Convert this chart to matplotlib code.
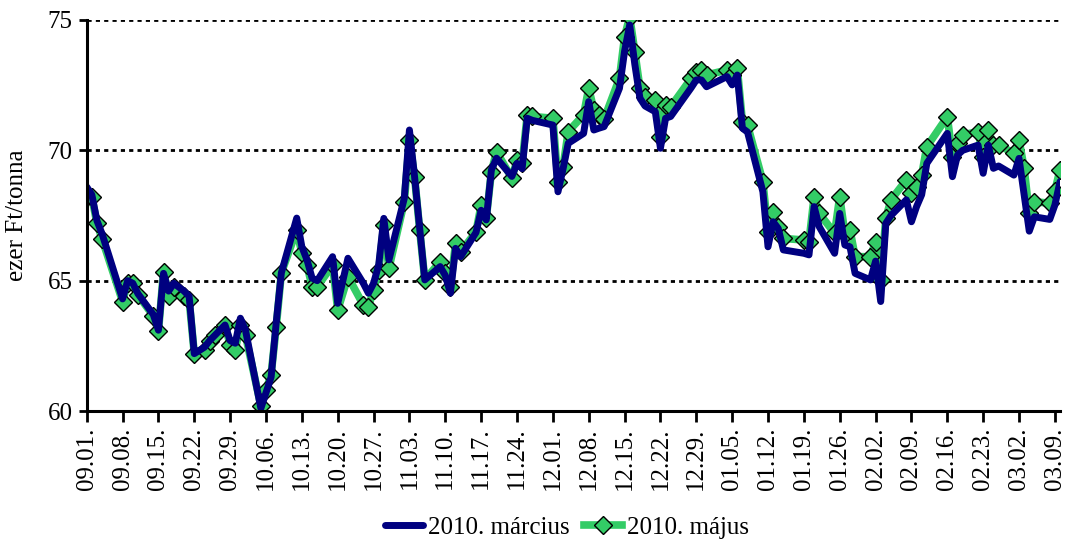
import matplotlib
matplotlib.use("Agg")
import matplotlib.pyplot as plt
import matplotlib.dates as mdates
import numpy as np
import pandas as pd

dates = ["2009-09-01","2009-09-02","2009-09-03","2009-09-04","2009-09-08","2009-09-09","2009-09-10","2009-09-11",
         "2009-09-14","2009-09-15","2009-09-16","2009-09-17","2009-09-18","2009-09-20","2009-09-21","2009-09-22",
         "2009-09-24","2009-09-25","2009-09-26","2009-09-28","2009-09-29","2009-09-30","2009-10-01","2009-10-02",
         "2009-10-05","2009-10-06","2009-10-07","2009-10-08","2009-10-09","2009-10-12","2009-10-13","2009-10-14",
         "2009-10-15","2009-10-16","2009-10-19","2009-10-20","2009-10-22","2009-10-25","2009-10-26","2009-10-27",
         "2009-10-28","2009-10-29","2009-10-30","2009-11-02","2009-11-03","2009-11-04","2009-11-05","2009-11-06",
         "2009-11-09","2009-11-10","2009-11-11","2009-11-12","2009-11-13","2009-11-16","2009-11-17","2009-11-18",
         "2009-11-19","2009-11-20","2009-11-23","2009-11-24","2009-11-25","2009-11-26","2009-11-27","2009-12-01",
         "2009-12-02","2009-12-03","2009-12-04","2009-12-07","2009-12-08","2009-12-09","2009-12-10","2009-12-11",
         "2009-12-14","2009-12-15","2009-12-16","2009-12-17","2009-12-18","2009-12-19","2009-12-21","2009-12-22",
         "2009-12-23","2009-12-24","2009-12-28","2009-12-29","2009-12-30","2009-12-31","2010-01-04","2010-01-05",
         "2010-01-06","2010-01-07","2010-01-08","2010-01-11","2010-01-12","2010-01-13","2010-01-14","2010-01-15",
         "2010-01-19","2010-01-20","2010-01-21","2010-01-22","2010-01-25","2010-01-26","2010-01-27","2010-01-28",
         "2010-01-29","2010-02-01","2010-02-02","2010-02-03","2010-02-04","2010-02-05","2010-02-08","2010-02-09",
         "2010-02-10","2010-02-11","2010-02-12","2010-02-16","2010-02-17","2010-02-18","2010-02-19","2010-02-22",
         "2010-02-23","2010-02-24","2010-02-25","2010-02-26","2010-03-01","2010-03-02","2010-03-03","2010-03-04",
         "2010-03-05","2010-03-08","2010-03-09","2010-03-10"]

marcius = [68.6,68.3,67.3,66.8,64.3,65.0,64.9,64.5,
           63.7,63.1,65.28,64.6,64.9,64.6,64.4,62.2,
           62.45,62.7,62.9,63.3,62.7,62.6,63.56,63.1,
           60.1,60.7,61.3,63.4,65.3,67.4,66.3,65.8,
           65.1,65.0,65.92,64.13,65.86,64.9,64.52,64.9,
           65.6,67.39,65.8,68.16,70.78,69.0,67.0,65.03,
           65.54,65.2,64.52,66.24,65.92,66.85,67.7,67.33,
           69.25,69.7,69.0,69.5,69.3,71.23,71.15,70.97,
           68.41,69.3,70.27,70.65,71.87,70.78,70.85,70.91,
           72.38,73.8,74.81,73.3,72.0,71.7,71.48,70.08,
           71.23,71.3,72.4,72.7,72.7,72.44,72.83,72.51,
           72.89,70.85,70.7,68.41,66.3,67.26,67.0,66.18,
           66.05,65.99,67.84,67.07,66.05,67.58,66.37,66.3,
           65.28,65.03,65.75,64.2,67.2,67.5,68.1,67.26,
           67.84,68.3,69.5,70.65,68.99,69.82,70.0,70.2,
           69.12,70.2,69.31,69.4,69.05,69.69,68.3,66.9,
           67.45,67.35,67.9,68.8]

majus = [68.2,68.2,67.2,66.6,64.2,64.9,64.9,64.45,
         63.65,63.05,65.35,64.4,64.77,64.4,64.26,62.2,
         62.34,62.7,62.9,63.3,62.53,62.34,63.3,62.9,
         60.2,60.8,61.4,63.24,65.3,66.95,66.05,65.6,
         64.77,64.77,65.6,63.87,65.15,64.07,64.0,64.64,
         65.4,67.14,65.48,68.03,70.4,68.99,66.95,65.03,
         65.73,65.3,64.77,66.43,66.1,66.88,67.9,67.39,
         69.18,69.95,68.93,69.63,69.5,71.36,71.3,71.23,
         68.8,69.37,70.72,71.36,72.38,71.55,71.36,71.2,
         72.76,74.36,75.13,73.78,72.38,72.06,71.93,70.52,
         71.74,71.67,72.76,73.0,73.08,72.89,73.08,72.9,
         73.15,71.1,70.97,68.8,66.88,67.65,67.07,66.62,
         66.56,66.5,68.22,67.58,66.82,68.22,66.8,66.95,
         65.92,65.92,66.5,65.03,67.4,68.1,68.86,68.35,
         68.6,69.05,70.14,71.29,69.76,70.27,70.59,70.72,
         69.76,70.78,70.2,70.2,69.89,70.4,69.31,67.58,
         68.03,67.97,68.45,69.25]

series_labels = ["2010. március", "2010. május"]
y_label = "ezer Ft/tonna"
y_ticks = [60, 65, 70, 75]

x = pd.to_datetime(dates)

plt.rcParams['font.family'] = ['Liberation Serif', 'DejaVu Serif']

fig = plt.figure(figsize=(10.7, 5.45), dpi=100)
ax = fig.add_axes([86.7/1070, 1-411/545, (1060-86.7)/1070, (411-20)/545])

navy = '#000080'
green = '#33CC66'

ax.plot(x, majus, color=green, lw=5.5, marker='D', markersize=9,
        markerfacecolor=green, markeredgecolor='black', markeredgewidth=1.0,
        label=series_labels[1], zorder=3, solid_joinstyle='round')
ax.plot(x, marcius, color=navy, lw=5, label=series_labels[0], zorder=4,
        solid_joinstyle='round', solid_capstyle='round')

ax.set_ylim(60, 75)
ax.set_yticks(y_ticks)
start = pd.Timestamp("2009-09-01")
ax.set_xlim(start, start + pd.Timedelta(days=190))
ticks = pd.date_range("2009-09-01", "2010-03-09", freq="7D")
ax.set_xticks(ticks)
ax.set_xticklabels([t.strftime("%m.%d.") for t in ticks], rotation=90)

for v in y_ticks[1:]:
    ax.axhline(v, color='black', lw=2, ls=(0, (1.5, 1.5)), zorder=1)

for s in ['top', 'right']:
    ax.spines[s].set_visible(False)
for s in ['left', 'bottom']:
    ax.spines[s].set_linewidth(2.2)
    ax.spines[s].set_color('black')
    ax.spines[s].set_zorder(5)

ax.tick_params(axis='x', direction='out', length=8, width=2, labelsize=18, pad=4)
ax.tick_params(axis='y', direction='out', length=6, width=2, labelsize=18, pad=4)
ax.set_ylabel(y_label, fontsize=18, labelpad=14)

h, l = ax.get_legend_handles_labels()
fig.legend([h[1], h[0]], [l[1], l[0]], loc='lower center', bbox_to_anchor=(0.53, -0.03),
           ncol=2, frameon=False, fontsize=18, handlelength=1.5, handletextpad=0.2,
           columnspacing=0.6)

fig.savefig("out.png", dpi=100)
